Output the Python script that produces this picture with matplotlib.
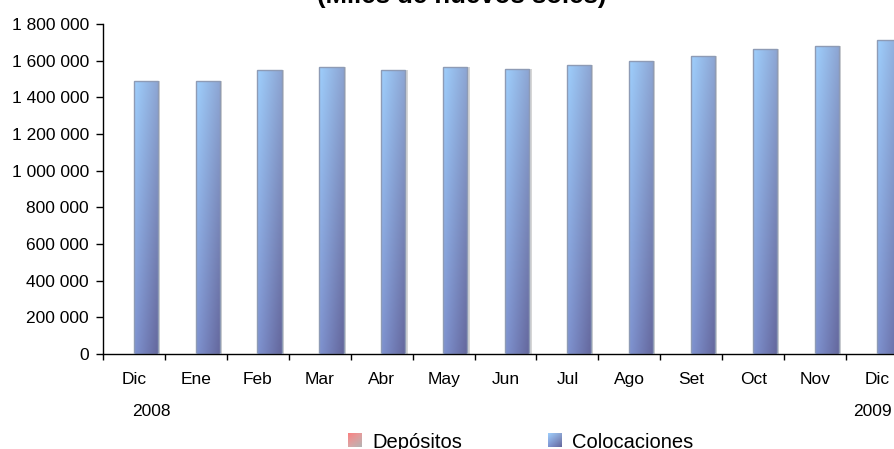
import numpy as np
import matplotlib.pyplot as plt

plt.rcParams['font.family'] = ['Liberation Sans', 'DejaVu Sans']

meses = ['Dic', 'Ene', 'Feb', 'Mar', 'Abr', 'May', 'Jun',
         'Jul', 'Ago', 'Set', 'Oct', 'Nov', 'Dic']
colocaciones = [1488000, 1489000, 1548000, 1566000, 1548000, 1566000, 1557000,
                1575000, 1598000, 1624000, 1662000, 1679000, 1711000]
depositos = [0] * 13
yticks = list(range(0, 1800001, 200000))


def gradiente(tl, tr, bl, br, n=64):
    # interpolacion bilineal entre las cuatro esquinas
    tl, tr, bl, br = (np.array(c, dtype=float) for c in (tl, tr, bl, br))
    s = np.linspace(0, 1, n)[None, :, None]
    t = np.linspace(0, 1, n)[:, None, None]
    arriba = tl * (1 - s) + tr * s
    abajo = bl * (1 - s) + br * s
    return arriba * (1 - t) + abajo * t


img_azul = gradiente((0.62, 0.81, 0.99), (0.55, 0.64, 0.82),
                     (0.50, 0.58, 0.82), (0.39, 0.40, 0.61))
img_rojo = gradiente((0.98, 0.50, 0.50), (0.90, 0.62, 0.62),
                     (0.86, 0.66, 0.66), (0.70, 0.70, 0.70))

fig = plt.figure(figsize=(8.95, 4.49), dpi=100)
ax = fig.add_axes([103 / 895, 95 / 449, 805 / 895, 330 / 449])

x = np.arange(len(meses))
ancho = 0.39
xc = x + 0.19

ax.bar(x - 0.19, depositos, ancho, linewidth=0)
# sombra a la derecha de cada barra
ax.bar(xc + 0.035, colocaciones, ancho, color='#d6d6d6', linewidth=0, zorder=1)
barras = ax.bar(xc, colocaciones, ancho, facecolor='none',
                edgecolor='#8e9bb5', linewidth=1.0, zorder=3)
for b in barras:
    x0, h = b.get_x(), b.get_height()
    im = ax.imshow(img_azul, extent=(x0, x0 + ancho, 0, h), origin='upper',
                   aspect='auto', zorder=2, interpolation='bilinear')
    im.set_clip_path(b)

ax.set_xlim(-0.5, 12.5)
ax.set_ylim(0, 1800000)
ax.set_aspect('auto')

ax.set_yticks(yticks)
ax.set_yticklabels([f'{v:,}'.replace(',', ' ') for v in yticks], fontsize=12.5)
ax.tick_params(axis='y', length=5, width=1, pad=5, color='black')

ax.set_xticks(np.arange(-0.5, 13, 1))
ax.set_xticklabels([])
ax.tick_params(axis='x', which='major', length=4, width=1, color='black')
ax.set_xticks(x, minor=True)
ax.set_xticklabels(meses, minor=True, fontsize=12.5)
ax.tick_params(axis='x', which='minor', length=0, pad=13)

for lado in ('top', 'right'):
    ax.spines[lado].set_visible(False)
for lado in ('left', 'bottom'):
    ax.spines[lado].set_color('black')
    ax.spines[lado].set_linewidth(1)

# años bajo los meses de diciembre
xt = ax.get_xaxis_transform()
ax.text(0.275, -58 / 330, '2008', transform=xt, ha='center', va='center',
        fontsize=12.5, clip_on=False)
ax.text(11.92, -58 / 330, '2009', transform=xt, ha='center', va='center',
        fontsize=12.5, clip_on=False)

fig.text(462 / 895, 1 - 3 / 449, '(Miles de nuevos soles)', ha='center',
         va='baseline', fontsize=18.5, fontweight='bold')

# leyenda
for px, img, txt in ((348, img_rojo, 'Depósitos'), (548, img_azul, 'Colocaciones')):
    lax = fig.add_axes([px / 895, 2 / 449, 14 / 895, 14 / 449])
    lax.imshow(img, aspect='auto', interpolation='bilinear')
    lax.axis('off')
    fig.text((px + 24) / 895, 1 / 449, txt, ha='left', va='baseline', fontsize=14.5)

fig.savefig('out.png', dpi=100)
